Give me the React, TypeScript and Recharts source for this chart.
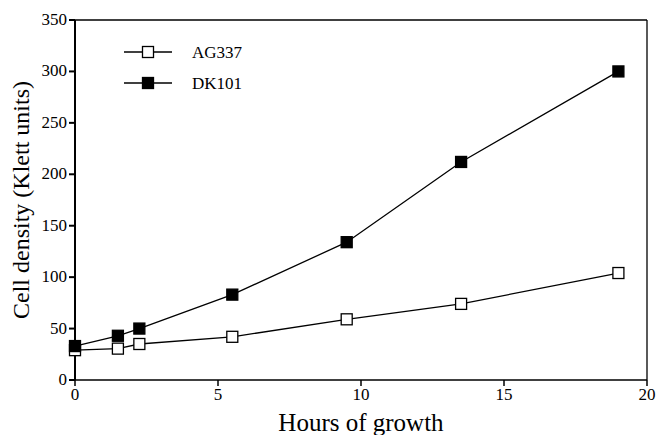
import {
  Line,
  LineChart,
  ReferenceLine,
  XAxis,
  YAxis
} from "recharts";

const hours = [0, 1.5, 2.25, 5.5, 9.5, 13.5, 19];
const ag337 = [29, 30.5, 35, 42, 59, 74, 104];
const dk101 = [33, 43, 50, 83, 134, 212, 300];
const xTicks = [0, 5, 10, 15, 20];
const yTicks = [0, 50, 100, 150, 200, 250, 300, 350];
const seriesNames = ["AG337", "DK101"];

const rows = hours.map((h, i) => ({ h, ag337: ag337[i], dk101: dk101[i] }));

const serif = "Liberation Serif, DejaVu Serif, serif";

function XTick(props: any) {
  const { x, y, payload } = props;
  return (
    <text x={x} y={y + 12} textAnchor="middle" fontSize={17} fontFamily={serif} fill="#000">
      {payload.value}
    </text>
  );
}

function YTick(props: any) {
  const { x, y, payload } = props;
  return (
    <text x={x} y={y + 5} textAnchor="end" fontSize={17} fontFamily={serif} fill="#000">
      {payload.value}
    </text>
  );
}

function square(fill: string) {
  return (props: any) => {
    const { cx, cy, index } = props;
    if (cx == null || cy == null) return <g key={index} />;
    return (
      <rect
        key={index}
        x={cx - 5.5}
        y={cy - 5.5}
        width={11}
        height={11}
        fill={fill}
        stroke="#000"
        strokeWidth={1.3}
      />
    );
  };
}

function LegendBox() {
  const fills = ["#fff", "#000"];
  return (
    <svg width={140} height={60} style={{ position: "absolute", left: 124, top: 43 }}>
      {seriesNames.map((name, i) => {
        const y = 9 + i * 31;
        return (
          <g key={name}>
            <line x1={0} x2={48} y1={y} y2={y} stroke="#000" strokeWidth={1.3} />
            <rect x={18.5} y={y - 5.5} width={11} height={11} fill={fills[i]} stroke="#000" strokeWidth={1.3} />
            <text x={68} y={y + 6} fontSize={17} fontFamily={serif} fill="#000">
              {name}
            </text>
          </g>
        );
      })}
    </svg>
  );
}

export default function App() {
  return (
    <div style={{ position: "absolute", left: 0, top: 0, width: 657, height: 435, background: "#fff" }}>
      <LineChart width={657} height={435} data={rows} margin={{ top: 20, right: 10, left: 0, bottom: 0 }}>
        <XAxis
          dataKey="h"
          type="number"
          domain={[0, 20]}
          ticks={xTicks}
          height={55}
          stroke="#000"
          strokeWidth={1.5}
          tickSize={6}
          tickMargin={2}
          tick={<XTick />}
          label={{
            value: "Hours of growth",
            position: "insideBottom",
            offset: 4,
            fill: "#000",
            fontSize: 25,
            fontFamily: serif
          }}
        />
        <YAxis
          type="number"
          domain={[0, 350]}
          ticks={yTicks}
          width={75}
          stroke="#000"
          strokeWidth={2}
          tickSize={6}
          tickMargin={2}
          tick={<YTick />}
          label={{
            value: "Cell density (Klett units)",
            angle: -90,
            position: "insideLeft",
            offset: 20,
            style: { textAnchor: "middle" },
            fill: "#000",
            fontSize: 24,
            fontFamily: serif
          }}
        />
        <ReferenceLine y={350} stroke="#000" strokeWidth={1.3} />
        <ReferenceLine x={20} stroke="#000" strokeWidth={1.3} />
        <Line
          dataKey="ag337"
          stroke="#000"
          strokeWidth={1.3}
          dot={square("#fff")}
          isAnimationActive={false}
        />
        <Line
          dataKey="dk101"
          stroke="#000"
          strokeWidth={1.3}
          dot={square("#000")}
          isAnimationActive={false}
        />
      </LineChart>
      <LegendBox />
    </div>
  );
}
